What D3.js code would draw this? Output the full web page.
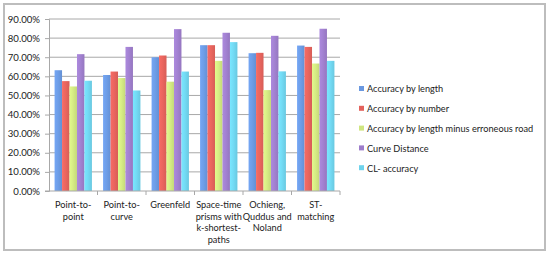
<!DOCTYPE html>
<html>
<head>
<meta charset="utf-8">
<script src="https://cdn.jsdelivr.net/npm/d3@7"></script>
<style>
  body { margin: 0; background: #fff; }
  text { font-family: Lato, "Open Sans", sans-serif; fill: #222; }
</style>
</head>
<body>
<svg id="chart"></svg>
<script>
var w = 550;
var h = 257;

// categories, wrapped as in the original axis labels
var categories = ['Point-to-point', 'Point-to-curve', 'Greenfeld', 'Space-time prisms with k-shortest-paths', 'Ochieng, Quddus and Noland', 'ST-matching'];
var categoryLines = [
  ['Point-to-', 'point'],
  ['Point-to-', 'curve'],
  ['Greenfeld'],
  ['Space-time', 'prisms with', 'k-shortest-', 'paths'],
  ['Ochieng,', 'Quddus and', 'Noland'],
  ['ST-', 'matching']
];

var seriesNames = ['Accuracy by length', 'Accuracy by number', 'Accuracy by length minus erroneous road', 'Curve Distance', 'CL- accuracy'];
var byLength      = [63.2, 60.7, 70.0, 76.3, 72.1, 76.1];
var byNumber      = [57.5, 62.5, 70.9, 76.3, 72.3, 75.4];
var minusRoad     = [54.7, 59.1, 57.2, 68.1, 52.8, 66.7];
var curveDistance = [71.6, 75.4, 84.7, 82.8, 81.2, 84.9];
var clAccuracy    = [57.7, 52.6, 62.5, 77.9, 62.6, 68.1];
var yTicks = [0, 10, 20, 30, 40, 50, 60, 70, 80, 90];

var seriesValues = [byLength, byNumber, minusRoad, curveDistance, clAccuracy];
var colors = ['#6a98e0', '#e3625c', '#cfe580', '#9d7dcb', '#6fd3ec'];

var margin = {left: 49, right: 210, top: 19, bottom: 66};
var plotW = w - margin.left - margin.right;
var plotH = h - margin.top - margin.bottom;

var svg = d3.select('#chart').attr('width', w).attr('height', h);

// gradients for bars
var defs = svg.append('defs');
colors.forEach(function (c, i) {
  var g = defs.append('linearGradient').attr('id', 'g' + i)
    .attr('x1', '0%').attr('x2', '100%').attr('y1', '0%').attr('y2', '0%');
  g.append('stop').attr('offset', '0%').attr('stop-color', d3.color(c).brighter(0.25));
  g.append('stop').attr('offset', '45%').attr('stop-color', d3.color(c).brighter(0.1));
  g.append('stop').attr('offset', '100%').attr('stop-color', d3.color(c).darker(0.15));
});

// outer frame
svg.append('rect')
  .attr('x', 4).attr('y', 4).attr('width', 541).attr('height', 246)
  .attr('fill', 'none').attr('stroke', '#bdbdbd').attr('stroke-width', 2);

var g = svg.append('g').attr('transform', 'translate(' + margin.left + ',' + margin.top + ')');

var x0 = d3.scaleBand().domain(categories).range([0, plotW]).paddingInner(0).paddingOuter(0);
var x1 = d3.scaleBand().domain(d3.range(seriesNames.length))
  .range([x0.bandwidth() * 0.115, x0.bandwidth() * 0.885]);
var y = d3.scaleLinear().domain([0, 90]).range([plotH, 0]);

// gridlines
g.selectAll('line.grid')
  .data(yTicks.slice(1))
  .enter()
  .append('line')
  .attr('class', 'grid')
  .attr('x1', 0).attr('x2', plotW)
  .attr('y1', function (d) { return y(d); })
  .attr('y2', function (d) { return y(d); })
  .attr('stroke', '#a8a8a8').attr('stroke-width', 1);

// bars
var groups = g.selectAll('g.cat')
  .data(categories)
  .enter()
  .append('g')
  .attr('transform', function (d) { return 'translate(' + x0(d) + ',0)'; });

groups.selectAll('rect')
  .data(function (d, ci) {
    return seriesValues.map(function (s, si) { return {si: si, v: s[ci]}; });
  })
  .enter()
  .append('rect')
  .attr('x', function (d) { return x1(d.si); })
  .attr('width', x1.bandwidth())
  .attr('y', function (d) { return y(d.v); })
  .attr('height', function (d) { return plotH - y(d.v); })
  .attr('fill', function (d) { return 'url(#g' + d.si + ')'; });

// y axis
var yAxis = g.append('g')
  .call(d3.axisLeft(y).tickValues(yTicks).tickSize(4).tickPadding(5)
    .tickFormat(function (d) { return d.toFixed(2) + '%'; }));
yAxis.select('.domain').attr('stroke', '#a8a8a8');
yAxis.selectAll('.tick line').attr('stroke', '#a8a8a8');
yAxis.selectAll('text').attr('font-size', '9.6px').attr('fill', '#222')
  .style('font-family', 'Lato, "Open Sans", sans-serif');

// x axis
var xAxis = g.append('g').attr('transform', 'translate(0,' + plotH + ')');
xAxis.append('line').attr('x1', -4).attr('x2', plotW).attr('y1', 0).attr('y2', 0)
  .attr('stroke', '#a8a8a8');
xAxis.selectAll('line.tk')
  .data(categories)
  .enter()
  .append('line')
  .attr('class', 'tk')
  .attr('x1', function (d) { return x0(d) + x0.bandwidth(); })
  .attr('x2', function (d) { return x0(d) + x0.bandwidth(); })
  .attr('y1', 0).attr('y2', 4)
  .attr('stroke', '#a8a8a8');

xAxis.selectAll('text.cat')
  .data(categories)
  .enter()
  .append('text')
  .attr('class', 'cat')
  .attr('text-anchor', 'middle')
  .attr('font-size', '9.2px')
  .attr('transform', function (d) { return 'translate(' + (x0(d) + x0.bandwidth() / 2) + ',17)'; })
  .each(function (d, i) {
    var t = d3.select(this);
    categoryLines[i].forEach(function (line, li) {
      t.append('tspan').attr('x', 0).attr('y', li * 11.5).text(line);
    });
  });

// legend
var legend = svg.append('g').attr('transform', 'translate(359,89)');
var items = legend.selectAll('g')
  .data(seriesNames)
  .enter()
  .append('g')
  .attr('transform', function (d, i) { return 'translate(0,' + i * 19.8 + ')'; });
items.append('rect')
  .attr('x', 0).attr('y', -3).attr('width', 5).attr('height', 5)
  .attr('fill', function (d, i) { return colors[i]; });
items.append('text')
  .attr('x', 8).attr('y', 3.3)
  .attr('font-size', '9.2px')
  .text(function (d) { return d; });
</script>
</body>
</html>
